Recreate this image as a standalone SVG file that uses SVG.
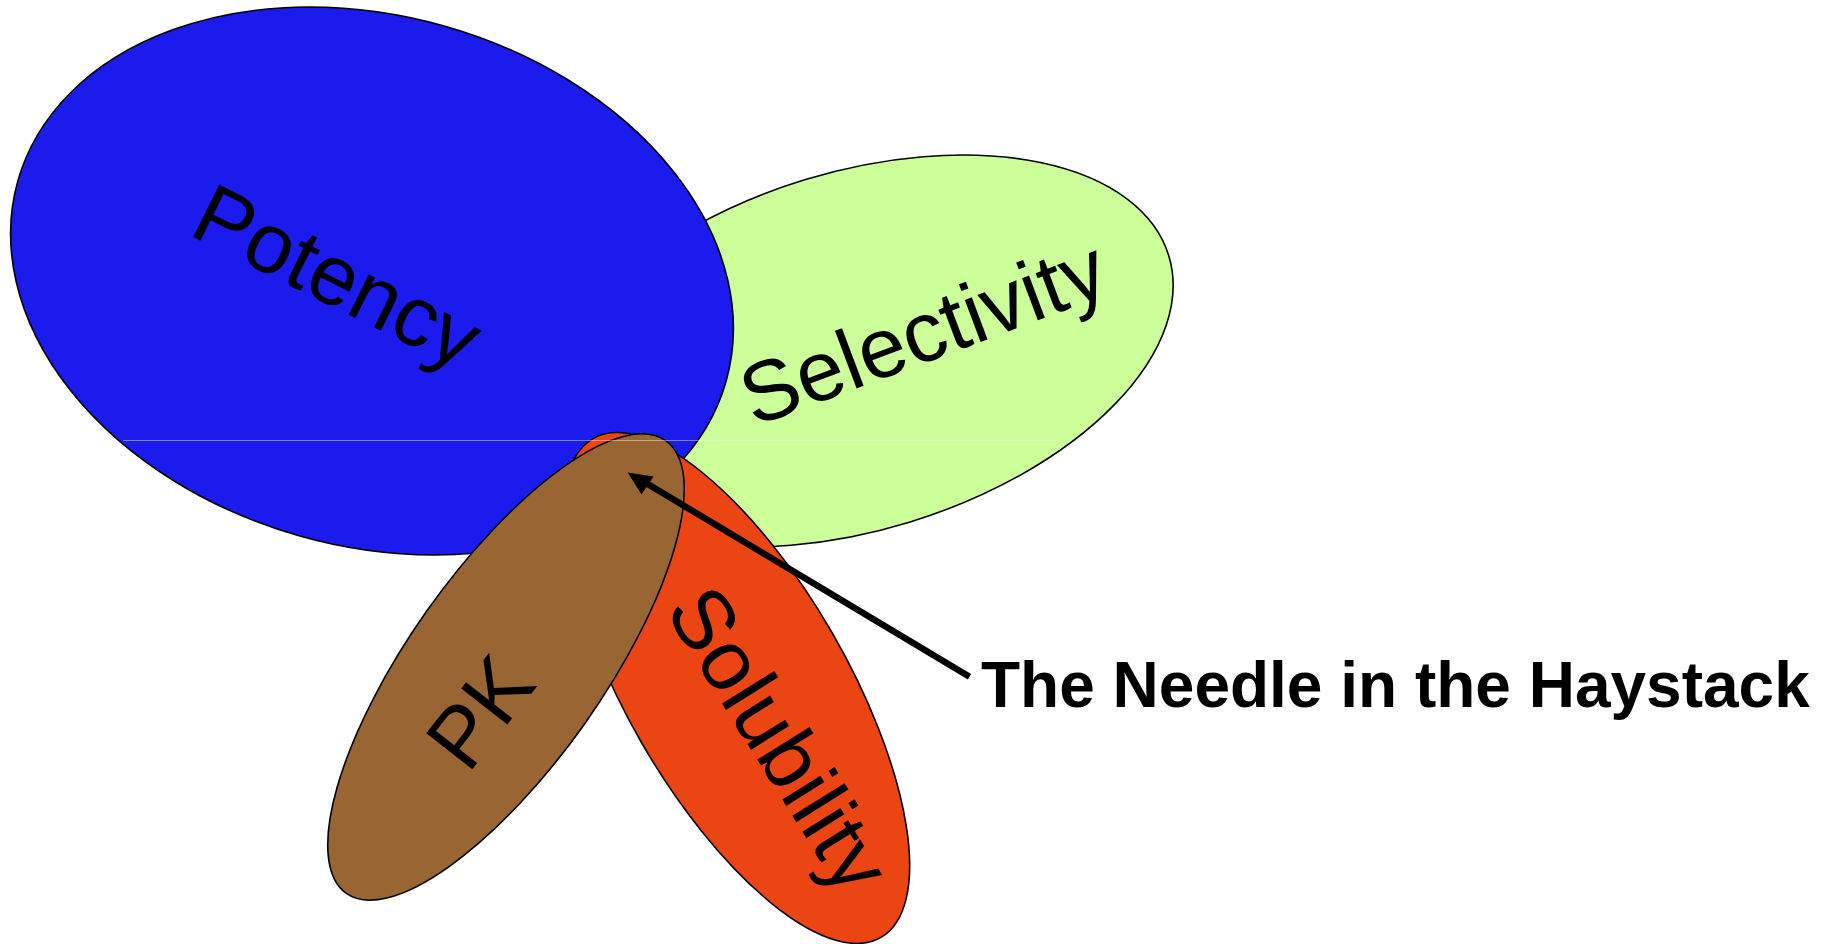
<svg xmlns="http://www.w3.org/2000/svg" width="1836" height="944" viewBox="0 0 1836 944">
<style>
.el{stroke:#000;stroke-width:1.6}
.lbl{font-family:"Liberation Sans",Arial,sans-serif;font-size:85px;fill:#000}
.title{font-family:"Liberation Sans",Arial,sans-serif;font-weight:bold;font-size:64px;fill:#000}
</style>
<rect width="1836" height="944" fill="#fff"/>
<g id="selectivity">
<ellipse class="el" cx="857" cy="351" rx="326" ry="179" transform="rotate(-17 857 351)" fill="#CCFF99"/>
<text class="lbl" x="754" y="427" font-size="87" transform="rotate(-20.6 754 427)">Selectivity</text>
</g>
<g id="potency">
<ellipse class="el" cx="372" cy="281" rx="368" ry="265" transform="rotate(15.8 372 281)" fill="#1B1BEE"/>
<text class="lbl" x="187" y="234" transform="rotate(26.5 187 234)">Potency</text>
</g>
<g id="solubility">
<ellipse class="el" cx="737" cy="688" rx="288" ry="110" transform="rotate(60 737 688)" fill="#EB4513"/>
<text class="lbl" x="664" y="610.5" font-size="84" transform="rotate(58 664 610.5)">Solubility</text>
</g>
<g id="pk">
<ellipse class="el" cx="506" cy="667" rx="277" ry="97" transform="rotate(-54.8 506 667)" fill="#996633"/>
<text class="lbl" x="503" y="730" text-anchor="middle" transform="rotate(-52 503 730)">PK</text>
</g>
<line x1="123" y1="440.5" x2="1060" y2="440.5" stroke="#fff" stroke-opacity="0.45" stroke-width="1"/>
<g id="connectors">
<line x1="969.5" y1="676.8" x2="641" y2="480" stroke="#000" stroke-width="6.5"/>
<path d="M627.7,472.5 L641.5,494.5 L653.5,476.5 Z" fill="#000"/>
</g>
<g id="caption">
<text class="title" x="981" y="707">The Needle in the Haystack</text>
</g>
</svg>
